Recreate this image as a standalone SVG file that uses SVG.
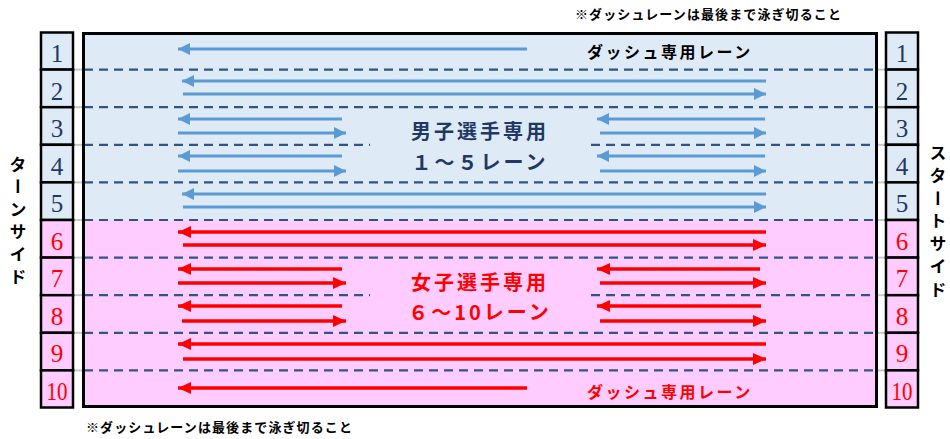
<svg xmlns="http://www.w3.org/2000/svg" width="950" height="439" viewBox="0 0 950 439">
<style>
.cellb{fill:#DEEBF7;stroke:#000;stroke-width:2.5}
.cellp{fill:#FFCCFF;stroke:#000;stroke-width:2.5}
.numb{font-family:"Liberation Serif",serif;font-size:25px;fill:#1F3864;text-anchor:middle}
.nump{font-family:"Liberation Serif",serif;font-size:25px;fill:#FF0000;text-anchor:middle}
.dash{stroke:#2F5587;stroke-width:2.2;stroke-dasharray:9 6;fill:none}
.gray{stroke:#C8C8C8;stroke-width:2}
.ab{stroke:#5B9BD5;stroke-width:3;fill:none;marker-end:url(#mb)}
.ar{stroke:#FF0000;stroke-width:3.5;fill:none;marker-end:url(#mr)}
.jp{font-family:"Noto Sans CJK JP",sans-serif}
.note{font-family:"Noto Sans CJK JP",sans-serif;font-size:13px;font-weight:bold;fill:#000;letter-spacing:1.1px}
.side{font-family:"Noto Sans CJK JP",sans-serif;font-size:17px;font-weight:bold;fill:#000;writing-mode:vertical-rl}
</style>
<defs>
<marker id="mb" markerUnits="userSpaceOnUse" markerWidth="12" markerHeight="12" refX="10" refY="5" orient="auto" viewBox="0 0 10 10"><path d="M0,0 L10,5 L0,10 z" fill="#5B9BD5"/></marker>
<marker id="mr" markerUnits="userSpaceOnUse" markerWidth="13" markerHeight="12" refX="12" refY="5.5" orient="auto" viewBox="0 0 12 11"><path d="M0,0 L12,5.5 L0,11 z" fill="#FF0000"/></marker>
</defs>
<rect width="950" height="439" fill="#FFFFFF"/>

<g id="pool">
<rect x="83.5" y="33.5" width="793" height="186.5" fill="#DEEBF7"/>
<rect x="83.5" y="220" width="793" height="186.5" fill="#FFCCFF"/>
</g>

<g id="gaps">
<line class="gray" x1="74" y1="69.6" x2="83" y2="69.6"/><line class="gray" x1="74" y1="107.2" x2="83" y2="107.2"/><line class="gray" x1="74" y1="144.8" x2="83" y2="144.8"/><line class="gray" x1="74" y1="182.4" x2="83" y2="182.4"/><line class="gray" x1="74" y1="220" x2="83" y2="220"/><line class="gray" x1="74" y1="257.6" x2="83" y2="257.6"/><line class="gray" x1="74" y1="295.2" x2="83" y2="295.2"/><line class="gray" x1="74" y1="332.8" x2="83" y2="332.8"/><line class="gray" x1="74" y1="370.4" x2="83" y2="370.4"/>
<line class="gray" x1="877" y1="69.6" x2="885" y2="69.6"/><line class="gray" x1="877" y1="107.2" x2="885" y2="107.2"/><line class="gray" x1="877" y1="144.8" x2="885" y2="144.8"/><line class="gray" x1="877" y1="182.4" x2="885" y2="182.4"/><line class="gray" x1="877" y1="220" x2="885" y2="220"/><line class="gray" x1="877" y1="257.6" x2="885" y2="257.6"/><line class="gray" x1="877" y1="295.2" x2="885" y2="295.2"/><line class="gray" x1="877" y1="332.8" x2="885" y2="332.8"/><line class="gray" x1="877" y1="370.4" x2="885" y2="370.4"/>
</g>

<g id="lane-lines">
<line class="dash" x1="84" y1="69.6" x2="876" y2="69.6"/>
<line class="dash" x1="84" y1="107.2" x2="876" y2="107.2"/>
<line class="dash" x1="84" y1="144.8" x2="370" y2="144.8"/>
<line class="dash" x1="591" y1="144.8" x2="876" y2="144.8"/>
<line class="dash" x1="84" y1="182.4" x2="876" y2="182.4"/>
<line class="dash" x1="84" y1="220" x2="876" y2="220"/>
<line class="dash" x1="84" y1="257.6" x2="876" y2="257.6"/>
<line class="dash" x1="84" y1="295.2" x2="370" y2="295.2"/>
<line class="dash" x1="591" y1="295.2" x2="876" y2="295.2"/>
<line class="dash" x1="84" y1="332.8" x2="876" y2="332.8"/>
<line class="dash" x1="84" y1="370.4" x2="876" y2="370.4"/>
</g>

<rect x="83.5" y="33.5" width="793" height="373" fill="none" stroke="#000" stroke-width="3"/>

<g id="left-numbers">
<rect class="cellb" x="41" y="32.5" width="32" height="37.1"/><text class="numb" x="57" y="62">1</text>
<rect class="cellb" x="41" y="69.6" width="32" height="37.6"/><text class="numb" x="57" y="99.5">2</text>
<rect class="cellb" x="41" y="107.2" width="32" height="37.6"/><text class="numb" x="57" y="137">3</text>
<rect class="cellb" x="41" y="144.8" width="32" height="37.6"/><text class="numb" x="57" y="174.5">4</text>
<rect class="cellb" x="41" y="182.4" width="32" height="37.6"/><text class="numb" x="57" y="212">5</text>
<rect class="cellp" x="41" y="220" width="32" height="37.6"/><text class="nump" x="57" y="249.5">6</text>
<rect class="cellp" x="41" y="257.6" width="32" height="37.6"/><text class="nump" x="57" y="287">7</text>
<rect class="cellp" x="41" y="295.2" width="32" height="37.6"/><text class="nump" x="57" y="324.5">8</text>
<rect class="cellp" x="41" y="332.8" width="32" height="37.6"/><text class="nump" x="57" y="362">9</text>
<rect class="cellp" x="41" y="370.4" width="32" height="37.1"/><text class="nump" x="57" y="399.5" textLength="21" lengthAdjust="spacingAndGlyphs">10</text>
</g>

<g id="right-numbers">
<rect class="cellb" x="886" y="32.5" width="32" height="37.1"/><text class="numb" x="902" y="62">1</text>
<rect class="cellb" x="886" y="69.6" width="32" height="37.6"/><text class="numb" x="902" y="99.5">2</text>
<rect class="cellb" x="886" y="107.2" width="32" height="37.6"/><text class="numb" x="902" y="137">3</text>
<rect class="cellb" x="886" y="144.8" width="32" height="37.6"/><text class="numb" x="902" y="174.5">4</text>
<rect class="cellb" x="886" y="182.4" width="32" height="37.6"/><text class="numb" x="902" y="212">5</text>
<rect class="cellp" x="886" y="220" width="32" height="37.6"/><text class="nump" x="902" y="249.5">6</text>
<rect class="cellp" x="886" y="257.6" width="32" height="37.6"/><text class="nump" x="902" y="287">7</text>
<rect class="cellp" x="886" y="295.2" width="32" height="37.6"/><text class="nump" x="902" y="324.5">8</text>
<rect class="cellp" x="886" y="332.8" width="32" height="37.6"/><text class="nump" x="902" y="362">9</text>
<rect class="cellp" x="886" y="370.4" width="32" height="37.1"/><text class="nump" x="902" y="399.5" textLength="21" lengthAdjust="spacingAndGlyphs">10</text>
</g>

<g id="connectors">
<line class="ab" x1="527" y1="49" x2="178" y2="49"/>
<line class="ab" x1="766" y1="81" x2="182" y2="81"/>
<line class="ab" x1="183" y1="94" x2="766" y2="94"/>
<line class="ab" x1="342" y1="119" x2="178" y2="119"/>
<line class="ab" x1="178" y1="133" x2="346" y2="133"/>
<line class="ab" x1="765" y1="119" x2="597" y2="119"/>
<line class="ab" x1="600" y1="133" x2="766" y2="133"/>
<line class="ab" x1="342" y1="156" x2="178" y2="156"/>
<line class="ab" x1="178" y1="171" x2="346" y2="171"/>
<line class="ab" x1="765" y1="156" x2="597" y2="156"/>
<line class="ab" x1="600" y1="171" x2="766" y2="171"/>
<line class="ab" x1="766" y1="194" x2="182" y2="194"/>
<line class="ab" x1="183" y1="207" x2="766" y2="207"/>
<line class="ar" x1="766" y1="232" x2="178" y2="232"/>
<line class="ar" x1="183" y1="245" x2="766" y2="245"/>
<line class="ar" x1="342" y1="269" x2="178" y2="269"/>
<line class="ar" x1="178" y1="283" x2="346" y2="283"/>
<line class="ar" x1="760" y1="269" x2="597" y2="269"/>
<line class="ar" x1="600" y1="283" x2="766" y2="283"/>
<line class="ar" x1="342" y1="306" x2="178" y2="306"/>
<line class="ar" x1="182" y1="321" x2="346" y2="321"/>
<line class="ar" x1="761" y1="306" x2="597" y2="306"/>
<line class="ar" x1="600" y1="321" x2="766" y2="321"/>
<line class="ar" x1="766" y1="344" x2="178" y2="344"/>
<line class="ar" x1="183" y1="359" x2="766" y2="359"/>
<line class="ar" x1="527" y1="388" x2="178" y2="388"/>
</g>

<g id="labels">
<text class="jp" x="587" y="58" font-size="16" font-weight="bold" fill="#000" letter-spacing="2.5">ダッシュ専用レーン</text>
<text class="jp" x="587" y="398" font-size="16" font-weight="bold" fill="#FF0000" letter-spacing="2.5">ダッシュ専用レーン</text>
<text class="jp" x="480" y="139" font-size="20" font-weight="bold" fill="#1F3864" text-anchor="middle" letter-spacing="3">男子選手専用</text>
<text class="jp" x="480" y="170" font-size="20" font-weight="bold" fill="#1F3864" text-anchor="middle" letter-spacing="3">１～５レーン</text>
<text class="jp" x="480" y="290" font-size="20" font-weight="bold" fill="#FF0000" text-anchor="middle" letter-spacing="3">女子選手専用</text>
<text class="jp" x="480" y="320" font-size="20" font-weight="bold" fill="#FF0000" text-anchor="middle" letter-spacing="3">６～10レーン</text>
<text class="note" x="575" y="19">※ダッシュレーンは最後まで泳ぎ切ること</text>
<text class="note" x="86" y="432">※ダッシュレーンは最後まで泳ぎ切ること</text>
<text class="side" x="18" y="156" letter-spacing="5.4">ターンサイド</text>
<text class="side" x="938" y="144" letter-spacing="5.8">スタートサイド</text>
</g>
</svg>
